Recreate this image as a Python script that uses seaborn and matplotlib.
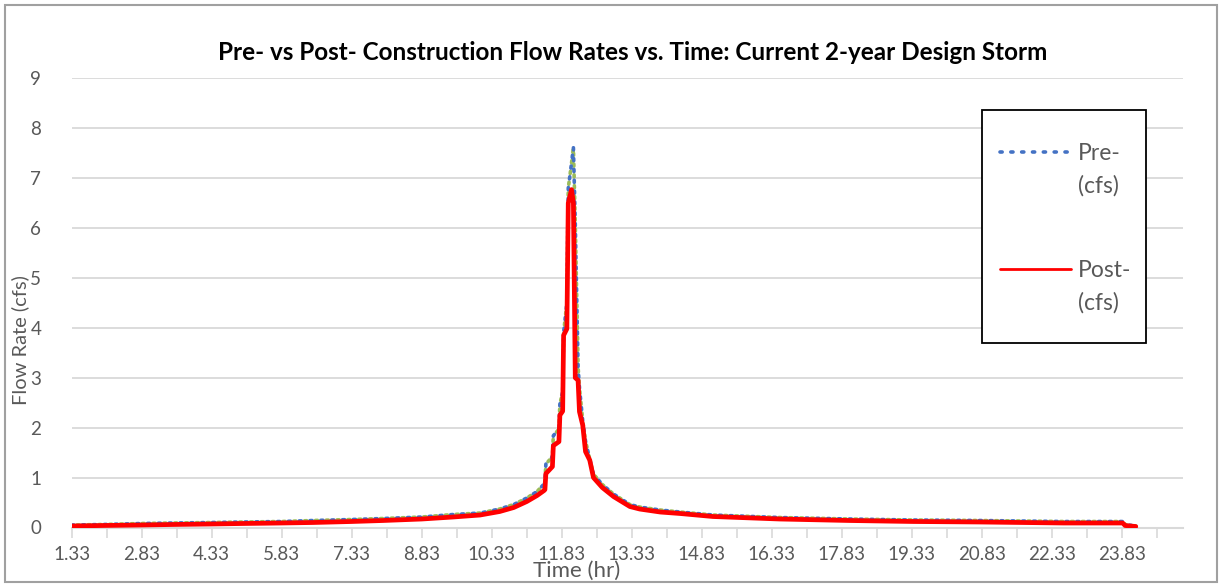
import numpy as np
import pandas as pd
import matplotlib
matplotlib.use("Agg")
import matplotlib.pyplot as plt
from matplotlib.lines import Line2D
from matplotlib.legend_handler import HandlerLine2D
from matplotlib.patches import Rectangle
from matplotlib.transforms import Affine2D
import seaborn as sns

# ---- data ----
time_hr = [1.33, 2.0, 2.83, 3.5, 4.33, 5.0, 5.83, 6.5, 7.33, 8.0, 8.83, 9.5,
           10.08, 10.5, 10.8, 11.08, 11.3, 11.45, 11.47, 11.49, 11.63, 11.65,
           11.77, 11.79, 11.85, 11.87, 11.94, 11.97, 12.04, 12.08, 12.12,
           12.18, 12.21, 12.28, 12.34, 12.43, 12.51, 12.7, 12.94, 13.29, 13.5,
           13.94, 14.37, 15.07, 16.5, 18.0, 19.36, 20.8, 22.58, 23.85, 23.9,
           24.13]

post_cfs = [0.03, 0.04, 0.05, 0.06, 0.07, 0.08, 0.09, 0.10, 0.12, 0.14, 0.17, 0.21,
            0.25, 0.32, 0.40, 0.52, 0.64, 0.74, 0.76, 1.08, 1.22, 1.64,
            1.72, 2.25, 2.33, 3.85, 3.98, 6.50, 6.77, 6.50, 3.00,
            2.95, 2.32, 2.05, 1.52, 1.35, 1.00, 0.80, 0.62, 0.42, 0.37,
            0.31, 0.28, 0.22, 0.17, 0.14, 0.12, 0.11, 0.09, 0.09, 0.04,
            0.02]

pre_cfs = [0.05, 0.06, 0.08, 0.09, 0.10, 0.11, 0.12, 0.14, 0.16, 0.18, 0.21, 0.26,
           0.29, 0.37, 0.46, 0.59, 0.72, 0.87, 0.92, 1.27, 1.42, 1.84,
           1.97, 2.47, 2.72, 3.90, 4.50, 6.80, 7.30, 7.62, 6.10,
           3.22, 2.80, 2.13, 1.73, 1.37, 1.07, 0.86, 0.67, 0.46, 0.41,
           0.35, 0.31, 0.25, 0.20, 0.17, 0.15, 0.14, 0.12, 0.12, 0.06,
           0.03]

x_tick_labels = ["1.33", "2.83", "4.33", "5.83", "7.33", "8.83", "10.33", "11.83",
                 "13.33", "14.83", "16.33", "17.83", "19.33", "20.83", "22.33", "23.83"]
y_ticks = [0, 1, 2, 3, 4, 5, 6, 7, 8, 9]

title = "Pre- vs Post- Construction Flow Rates vs. Time: Current 2-year Design Storm"
series_names = ["Pre-\n(cfs)", "Post-\n(cfs)"]

df = pd.DataFrame({"time": time_hr, "pre": pre_cfs, "post": post_cfs})

# ---- style ----
sns.set_theme(style="white")
plt.rcParams["font.family"] = ["Lato", "DejaVu Sans"]

W, H = 1222, 586
fig = plt.figure(figsize=(W / 100, H / 100), dpi=100)
ax = fig.add_axes([71.7 / W, 1 - 527.5 / H, (1183 - 71.7) / W, (527.5 - 78.3) / H])

grid_c = "#d9d9d9"
text_c = "#595959"

# lines
sns.lineplot(data=df, x="time", y="pre", ax=ax, color="#9BBB59", lw=2.6,
             linestyle=(1.5, (0.6, 2.4)), dash_capstyle="round", sort=False,
             estimator=None, zorder=3)
sns.lineplot(data=df, x="time", y="pre", ax=ax, color="#4472C4", lw=2.6,
             linestyle=(0, (0.6, 2.4)), dash_capstyle="round", sort=False,
             estimator=None, zorder=4)
sns.lineplot(data=df, x="time", y="post", ax=ax, color="#FF0000", lw=3.4,
             sort=False, estimator=None, zorder=5)

# axes
x_start = float(x_tick_labels[0])
step = float(x_tick_labels[1]) - float(x_tick_labels[0])
ax.set_xlim(x_start, x_start + (1183 - 71.7) / 46.67)
ax.set_ylim(0, 9)
ax.set_yticks(y_ticks)
ax.set_yticklabels([str(v) for v in y_ticks], fontsize=13.5, color=text_c)
major = [float(s) for s in x_tick_labels]
ax.set_xticks(major)
ax.set_xticklabels(x_tick_labels, fontsize=13.5, color=text_c)
ax.set_xticks([m + step / 2 for m in major], minor=True)
ax.tick_params(axis="x", which="both", direction="out", length=7, width=1.2,
               color=grid_c, pad=6, bottom=True)
ax.tick_params(axis="y", length=0, pad=22)
ax.grid(axis="y", color=grid_c, lw=1.3)
ax.set_axisbelow(True)
for s in ["left", "right", "top"]:
    ax.spines[s].set_visible(False)
ax.spines["bottom"].set_color(grid_c)
ax.spines["bottom"].set_linewidth(1.5)
ax.set_xlabel("")
ax.set_ylabel("")

# labels
fig.text(577 / W, 1 - 571 / H, "Time (hr)", ha="center", va="center",
         fontsize=16, color=text_c)
fig.text(20 / W, 1 - 340 / H, "Flow Rate (cfs)", ha="center", va="center",
         rotation=90, fontsize=14.5, color=text_c)
fig.text(633 / W, 1 - 52 / H, title, ha="center", va="center",
         fontsize=17.5, fontweight="bold", color="black")

# outer border
fig.patches.append(Rectangle((5 / W, 4 / H), (W - 10) / W, (H - 9) / H,
                             transform=fig.transFigure, fill=False,
                             edgecolor="#a0a0a0", lw=1.5))

# legend frame
fig.patches.append(Rectangle((982 / W, 1 - 343 / H), (1146 - 982) / W, (343 - 110) / H,
                             transform=fig.transFigure, facecolor="white",
                             edgecolor="black", lw=1.3, zorder=6))


class UpHandler(HandlerLine2D):
    def create_artists(self, legend, orig_handle, xdescent, ydescent, width,
                       height, fontsize, trans):
        shift = Affine2D().translate(0, 18)
        return super().create_artists(legend, orig_handle, xdescent, ydescent,
                                      width, height, fontsize, trans + shift)


h_pre = Line2D([], [], color="#4472C4", lw=2.6, linestyle=(0, (0.6, 2.4)),
               dash_capstyle="round")
h_post = Line2D([], [], color="#FF0000", lw=2.0)
leg = fig.legend([h_pre, h_post], series_names, loc="upper left",
                 bbox_to_anchor=(1000 / W, 1 - 143 / H),
                 fontsize=16.5, frameon=False, borderpad=0, borderaxespad=0,
                 labelspacing=2.75, handlelength=3.1, handletextpad=0.3,
                 handler_map={Line2D: UpHandler()})
leg.set_zorder(7)
for t in leg.get_texts():
    t.set_color(text_c)
    t.set_linespacing(1.65)

fig.savefig("out.png", dpi=100)
